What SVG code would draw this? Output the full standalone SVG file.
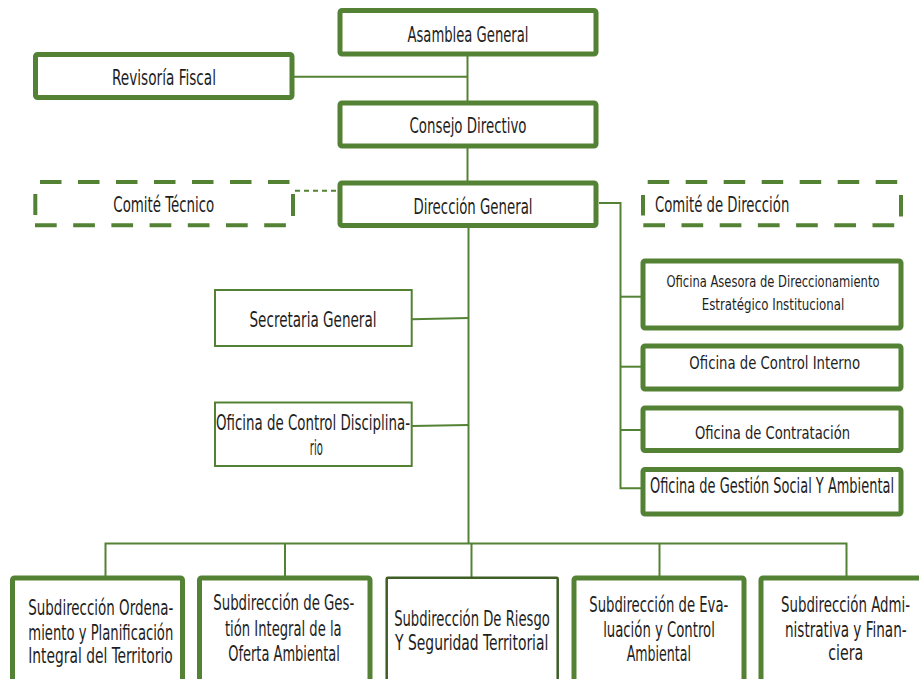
<svg xmlns="http://www.w3.org/2000/svg" width="919" height="679" viewBox="0 0 919 679">
<style>
.bx{fill:#fff;stroke:#548235;stroke-width:5}
.tn{fill:#fff;stroke:#548235;stroke-width:2}
.dk{fill:#fff;stroke:#3e5e26;stroke-width:2.5}
.dt{fill:none;stroke:#548235;stroke-width:4;stroke-dasharray:21.5 16.5}
.db{fill:none;stroke:#548235;stroke-width:4;stroke-dasharray:21.7 16.5}
.dv{fill:none;stroke:#548235;stroke-width:4}
.ln{fill:none;stroke:#548235;stroke-width:2}
text{font-family:"Liberation Sans Narrow","DejaVu Sans Condensed","Liberation Sans",sans-serif;font-size:22px;fill:#1e1e1e;text-anchor:middle}
.bt{font-size:21px}
</style>
<rect width="919" height="679" fill="#fff"/>
<g id="connectors">
<line class="ln" x1="467.5" y1="56" x2="467.5" y2="102"/>
<line class="ln" x1="294" y1="76.7" x2="467.5" y2="76.7"/>
<line class="ln" x1="467.5" y1="148" x2="467.5" y2="181"/>
<line x1="295" y1="190.7" x2="338" y2="190.7" stroke="#548235" stroke-width="2" stroke-dasharray="5 4"/>
<line class="ln" x1="468.5" y1="228" x2="468.5" y2="543.5"/>
<line class="ln" x1="412" y1="319.3" x2="468.5" y2="318"/>
<line class="ln" x1="412" y1="426" x2="468.5" y2="425"/>
<polyline class="ln" points="599,203 620.5,203 620.5,488.3 641,488.3"/>
<line class="ln" x1="620.5" y1="296.7" x2="641" y2="296.7"/>
<line class="ln" x1="620.5" y1="366.7" x2="641" y2="366.7"/>
<line class="ln" x1="620.5" y1="430" x2="641" y2="430"/>
<polyline class="ln" points="105.5,576 105.5,543.5 846.5,543.5 846.5,576"/>
<line class="ln" x1="285" y1="543.5" x2="285" y2="576"/>
<line class="ln" x1="471.5" y1="543.5" x2="471.5" y2="577"/>
<line class="ln" x1="659.5" y1="543.5" x2="659.5" y2="576"/>
</g>
<g id="asamblea"><rect class="bx" x="340" y="10.5" width="256" height="43.5" rx="2"/><text x="468" y="41.5" textLength="121" lengthAdjust="spacingAndGlyphs">Asamblea General</text></g>
<g id="revisoria"><rect class="bx" x="35.5" y="54.5" width="256.5" height="43" rx="2"/><text x="164" y="85" textLength="104" lengthAdjust="spacingAndGlyphs">Revisoría Fiscal</text></g>
<g id="consejo"><rect class="bx" x="340" y="103" width="256" height="43" rx="2"/><text x="468" y="133" textLength="117" lengthAdjust="spacingAndGlyphs">Consejo Directivo</text></g>
<g id="direccion"><rect class="bx" x="340" y="183" width="256" height="42.5" rx="2"/><text x="473" y="214" textLength="119" lengthAdjust="spacingAndGlyphs">Dirección General</text></g>
<g id="comite-tecnico">
<line class="dt" x1="40" y1="182" x2="290" y2="182"/>
<line class="db" x1="35" y1="225.3" x2="286" y2="225.3"/>
<line class="dv" x1="35.3" y1="194" x2="35.3" y2="215"/>
<line class="dv" x1="293" y1="194" x2="293" y2="216"/>
<text x="163.8" y="212.3" textLength="101" lengthAdjust="spacingAndGlyphs">Comité Técnico</text></g>
<g id="comite-direccion">
<line class="dt" x1="647.7" y1="182" x2="897.5" y2="182"/>
<line class="db" x1="643.3" y1="225.3" x2="894.2" y2="225.3"/>
<line class="dv" x1="643" y1="195" x2="643" y2="215.5"/>
<line class="dv" x1="901" y1="195" x2="901" y2="216.5"/>
<text x="655" y="211.7" style="text-anchor:start" textLength="134.3" lengthAdjust="spacingAndGlyphs">Comité de Dirección</text></g>
<g id="secretaria"><rect class="tn" x="215" y="290" width="196.7" height="56"/><text x="313" y="326.7" textLength="127" lengthAdjust="spacingAndGlyphs">Secretaria General</text></g>
<g id="disciplinario"><rect class="tn" x="215" y="402.5" width="196.7" height="63.5"/><text x="313" y="430" textLength="194" lengthAdjust="spacingAndGlyphs">Oficina de Control Disciplina-</text><text x="316.3" y="455" textLength="13" lengthAdjust="spacingAndGlyphs">rio</text></g>
<g id="asesora"><rect class="bx" x="643" y="261" width="258" height="67" rx="2"/><text x="773" y="286.7" style="font-size:15px" textLength="213" lengthAdjust="spacingAndGlyphs">Oficina Asesora de Direccionamiento</text><text x="773" y="310" style="font-size:15px" textLength="142.6" lengthAdjust="spacingAndGlyphs">Estratégico Institucional</text></g>
<g id="control-interno"><rect class="bx" x="643" y="346" width="258" height="43" rx="2"/><text x="774.7" y="369" style="font-size:17px" textLength="170.7" lengthAdjust="spacingAndGlyphs">Oficina de Control Interno</text></g>
<g id="contratacion"><rect class="bx" x="643" y="408" width="258" height="42.5" rx="2"/><text x="772.5" y="439" style="font-size:17px" textLength="155" lengthAdjust="spacingAndGlyphs">Oficina de Contratación</text></g>
<g id="gestion-social"><rect class="bx" x="643" y="469.5" width="258" height="44.5" rx="2"/><text x="772" y="493.3" style="font-size:21px" textLength="244" lengthAdjust="spacingAndGlyphs">Oficina de Gestión Social Y Ambiental</text></g>
<g id="sub-ordenamiento"><rect class="bx" x="12.5" y="578" width="170" height="120" rx="2"/><text class="bt" x="100.8" y="615" textLength="145" lengthAdjust="spacingAndGlyphs">Subdirección Ordena-</text><text class="bt" x="100.8" y="639.5" textLength="145" lengthAdjust="spacingAndGlyphs">miento y Planificación</text><text class="bt" x="100.5" y="663.3" textLength="144.4" lengthAdjust="spacingAndGlyphs">Integral del Territorio</text></g>
<g id="sub-gestion"><rect class="bx" x="199.5" y="578" width="170.5" height="120" rx="2"/><text class="bt" x="283.8" y="609.5" textLength="141" lengthAdjust="spacingAndGlyphs">Subdirección de Ges-</text><text class="bt" x="283.3" y="635.5" textLength="116.7" lengthAdjust="spacingAndGlyphs">tión Integral de la</text><text class="bt" x="284" y="660.5" textLength="111.7" lengthAdjust="spacingAndGlyphs">Oferta Ambiental</text></g>
<g id="sub-riesgo"><rect class="dk" x="386.7" y="577.7" width="171" height="120" rx="1"/><text class="bt" x="472" y="625.5" textLength="155.7" lengthAdjust="spacingAndGlyphs">Subdirección De Riesgo</text><text class="bt" x="471.7" y="650" textLength="153.3" lengthAdjust="spacingAndGlyphs">Y Seguridad Territorial</text></g>
<g id="sub-evaluacion"><rect class="bx" x="574" y="578" width="170" height="120" rx="2"/><text class="bt" x="658.8" y="611.7" textLength="139" lengthAdjust="spacingAndGlyphs">Subdirección de Eva-</text><text class="bt" x="659" y="636.5" textLength="111.7" lengthAdjust="spacingAndGlyphs">luación y Control</text><text class="bt" x="658.8" y="661" textLength="64.3" lengthAdjust="spacingAndGlyphs">Ambiental</text></g>
<g id="sub-administrativa"><rect class="bx" x="761" y="578" width="170" height="120" rx="2"/><text class="bt" x="845.5" y="611.7" textLength="129" lengthAdjust="spacingAndGlyphs">Subdirección Admi-</text><text class="bt" x="845.8" y="636.5" textLength="121.7" lengthAdjust="spacingAndGlyphs">nistrativa y Finan-</text><text class="bt" x="845.8" y="660" textLength="35" lengthAdjust="spacingAndGlyphs">ciera</text></g>
</svg>
